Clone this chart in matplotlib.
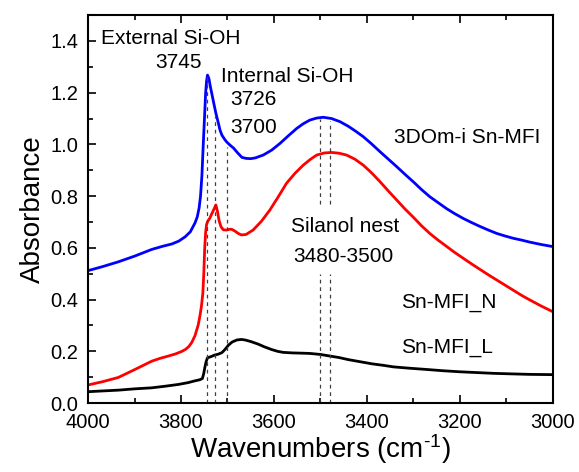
import matplotlib
matplotlib.use("Agg")
import matplotlib.pyplot as plt
from matplotlib.ticker import MultipleLocator, FormatStrFormatter

plt.rcParams['font.family'] = ['Liberation Sans', 'DejaVu Sans']
plt.rcParams['mathtext.fontset'] = 'custom'
plt.rcParams['mathtext.rm'] = 'Liberation Sans'
plt.rcParams['mathtext.it'] = 'Liberation Sans'

# 3DOm-i Sn-MFI
wn_3dom = [4000, 3968, 3935, 3900, 3863, 3840, 3820, 3805, 3791, 3780, 3770, 3765, 3761,
           3758, 3755, 3752, 3749, 3747, 3745, 3743, 3740, 3737, 3733, 3729, 3725, 3720,
           3716, 3712, 3707, 3702, 3695, 3687, 3678, 3669, 3660, 3650, 3640, 3623, 3605,
           3587, 3570, 3551, 3537, 3523, 3508, 3494, 3476, 3458, 3440, 3425, 3408, 3390,
           3372, 3354, 3336, 3318, 3300, 3283, 3265, 3247, 3229, 3211, 3193, 3175, 3157,
           3139, 3121, 3103, 3085, 3067, 3049, 3025, 3000]
abs_3dom = [0.512, 0.528, 0.546, 0.568, 0.594, 0.606, 0.615, 0.626, 0.643, 0.662, 0.696, 0.720, 0.755,
            0.800, 0.880, 1.005, 1.120, 1.199, 1.245, 1.268, 1.255, 1.225, 1.190, 1.155, 1.121, 1.085,
            1.055, 1.036, 1.022, 1.010, 0.998, 0.986, 0.967, 0.950, 0.946, 0.945, 0.948, 0.959, 0.978,
            1.004, 1.032, 1.062, 1.080, 1.094, 1.102, 1.105, 1.100, 1.088, 1.070, 1.052, 1.030, 1.002,
            0.972, 0.943, 0.914, 0.884, 0.855, 0.826, 0.798, 0.775, 0.752, 0.732, 0.714, 0.698, 0.683,
            0.669, 0.656, 0.646, 0.637, 0.630, 0.622, 0.613, 0.605]

# Sn-MFI_N
wn_n = [4000, 3968, 3935, 3899, 3863, 3845, 3827, 3812, 3798, 3790, 3783, 3777, 3770, 3763,
        3759, 3756, 3753, 3751, 3749, 3747, 3745, 3743, 3738, 3734, 3729, 3725, 3722,
        3718, 3714, 3709, 3702, 3696, 3691, 3684, 3677, 3670, 3660, 3645, 3627, 3609,
        3591, 3573, 3555, 3537, 3522, 3508, 3492, 3476, 3460, 3444, 3426, 3408, 3390,
        3372, 3354, 3336, 3318, 3300, 3283, 3265, 3247, 3229, 3211, 3193, 3175, 3157,
        3139, 3121, 3103, 3085, 3067, 3049, 3025, 3000]
abs_n = [0.070, 0.083, 0.099, 0.130, 0.162, 0.173, 0.182, 0.190, 0.200, 0.208, 0.219, 0.234, 0.260, 0.302,
         0.340, 0.375, 0.425, 0.500, 0.600, 0.660, 0.690, 0.701, 0.715, 0.731, 0.750, 0.766, 0.745,
         0.705, 0.682, 0.670, 0.669, 0.672, 0.672, 0.665, 0.656, 0.650, 0.652, 0.669, 0.703, 0.746,
         0.797, 0.850, 0.888, 0.920, 0.942, 0.959, 0.967, 0.969, 0.966, 0.959, 0.943, 0.920, 0.890,
         0.856, 0.820, 0.785, 0.750, 0.718, 0.686, 0.656, 0.630, 0.606, 0.582, 0.560, 0.538, 0.517,
         0.496, 0.476, 0.456, 0.436, 0.416, 0.398, 0.375, 0.353]

# Sn-MFI_L
wn_l = [4000, 3968, 3935, 3900, 3863, 3835, 3806, 3785, 3770, 3760, 3754, 3751, 3749,
        3746, 3743, 3735, 3727, 3720, 3712, 3705, 3698, 3690, 3680, 3670, 3662, 3650,
        3634, 3620, 3605, 3592, 3580, 3560, 3540, 3523, 3500, 3480, 3460, 3440, 3415,
        3390, 3365, 3343, 3310, 3272, 3236, 3200, 3164, 3128, 3090, 3050, 3000]
abs_l = [0.044, 0.047, 0.050, 0.055, 0.059, 0.065, 0.072, 0.079, 0.086, 0.090, 0.095, 0.115, 0.135,
         0.160, 0.175, 0.180, 0.186, 0.189, 0.195, 0.208, 0.224, 0.236, 0.244, 0.246, 0.244, 0.238,
         0.228, 0.217, 0.207, 0.200, 0.196, 0.194, 0.193, 0.192, 0.188, 0.182, 0.176, 0.168, 0.160,
         0.152, 0.146, 0.140, 0.135, 0.130, 0.125, 0.121, 0.118, 0.115, 0.113, 0.111, 0.110]

# band positions, dashed markers
band_si_oh = [3745, 3726, 3700]
band_si_oh_top = [1.26, 1.11, 0.99]
band_nest = [3500, 3480]
band_nest_top = [1.10, 1.09]

fig = plt.figure(figsize=(5.79, 4.72), dpi=100)
ax = fig.add_axes([0.152, 0.146, 0.803, 0.822])

ax.plot(wn_3dom, abs_3dom, color='#0000ff', lw=2)
ax.plot(wn_n, abs_n, color='#ff0000', lw=2)
ax.plot(wn_l, abs_l, color='black', lw=2)

dash = dict(color='0.25', lw=0.9, ls=(0, (3, 3)))
for w, top in zip(band_si_oh, band_si_oh_top):
    ax.plot([w, w], [0, top], **dash)
for w, top in zip(band_nest, band_nest_top):
    ax.plot([w, w], [0, 0.50], **dash)
    ax.plot([w, w], [0.77, top], **dash)

fs = 15
ax.text(3821, 1.408, 'External Si-OH', ha='center', va='center', fontsize=fs)
ax.text(3806, 1.315, '3745', ha='center', va='center', fontsize=fs)
ax.text(3572, 1.261, 'Internal Si-OH', ha='center', va='center', fontsize=fs)
ax.text(3644, 1.172, '3726', ha='center', va='center', fontsize=fs)
ax.text(3644, 1.067, '3700', ha='center', va='center', fontsize=fs)
ax.text(3185, 1.025, '3DOm-i Sn-MFI', ha='center', va='center', fontsize=fs)
ax.text(3446, 0.684, 'Silanol nest', ha='center', va='center', fontsize=fs)
ax.text(3451, 0.565, '3480-3500', ha='center', va='center', fontsize=fs)
ax.text(3223, 0.387, 'Sn-MFI_N', ha='center', va='center', fontsize=fs)
ax.text(3227, 0.213, 'Sn-MFI_L', ha='center', va='center', fontsize=fs)

ax.set_xlim(4000, 3000)
ax.set_ylim(0, 1.5)
ax.xaxis.set_major_locator(MultipleLocator(200))
ax.xaxis.set_minor_locator(MultipleLocator(100))
ax.yaxis.set_major_locator(MultipleLocator(0.2))
ax.yaxis.set_minor_locator(MultipleLocator(0.1))
ax.yaxis.set_major_formatter(FormatStrFormatter('%.1f'))
ax.tick_params(which='both', direction='in', labelsize=14.5, width=1.2, pad=7)
ax.tick_params(which='major', length=6)
ax.tick_params(which='minor', length=3.5)
ax.tick_params(axis='x', which='both', top=True)
for s in ax.spines.values():
    s.set_linewidth(1.5)

ax.set_xlabel(r'Wavenumbers (cm$^{\text{-}1}$)', fontsize=20, labelpad=0)
ax.set_ylabel('Absorbance', fontsize=20, labelpad=3)

plt.savefig('out.png', dpi=100)
